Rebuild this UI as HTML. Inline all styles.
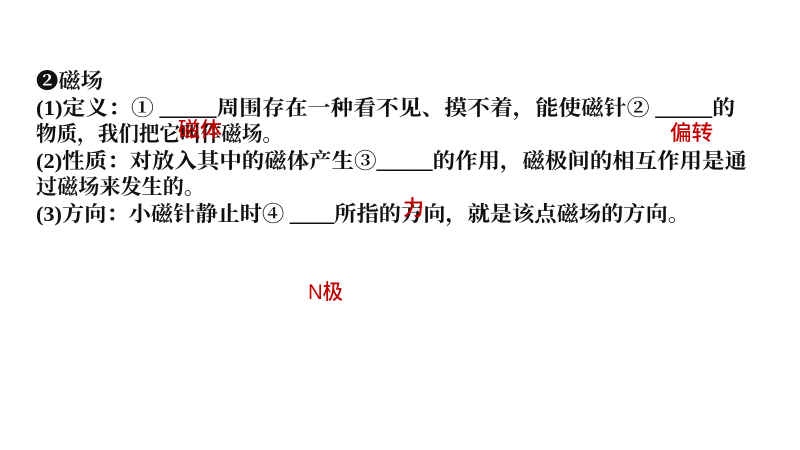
<!DOCTYPE html>
<html><head><meta charset="utf-8"><style>
html,body{margin:0;padding:0;background:#fff;width:800px;height:450px;overflow:hidden}
text{font-family:"Liberation Serif","Noto Serif CJK SC",serif;font-size:21px;font-weight:bold}
.r text{font-family:"Liberation Sans","Noto Sans CJK SC",sans-serif;font-weight:500}
</style></head><body>
<svg width="800" height="450" xmlns="http://www.w3.org/2000/svg">
<g fill="#111">
<text x="36" y="88" textLength="67" lengthAdjust="spacingAndGlyphs">❷磁场</text>
<text x="36" y="115" textLength="699" lengthAdjust="spacingAndGlyphs">(1)定义：① _____周围存在一种看不见、摸不着，能使磁针② _____的</text>
<text x="36" y="141" textLength="247" lengthAdjust="spacingAndGlyphs">物质，我们把它叫作磁场。</text>
<text x="36" y="168" textLength="711" lengthAdjust="spacingAndGlyphs">(2)性质：对放入其中的磁体产生③_____的作用，磁极间的相互作用是通</text>
<text x="36" y="194" textLength="169" lengthAdjust="spacingAndGlyphs">过磁场来发生的。</text>
<text x="36" y="221" textLength="654" lengthAdjust="spacingAndGlyphs">(3)方向：小磁针静止时④ ____所指的方向，就是该点磁场的方向。</text>
</g>
<g fill="#c00000" class="r">
<text x="178" y="137" textLength="44" lengthAdjust="spacingAndGlyphs">磁体</text>
<text x="670" y="140" textLength="43" lengthAdjust="spacingAndGlyphs">偏转</text>
<text x="403" y="215">力</text>
<text x="308" y="299" textLength="35" lengthAdjust="spacingAndGlyphs">N极</text>
</g>
</svg>
</body></html>
